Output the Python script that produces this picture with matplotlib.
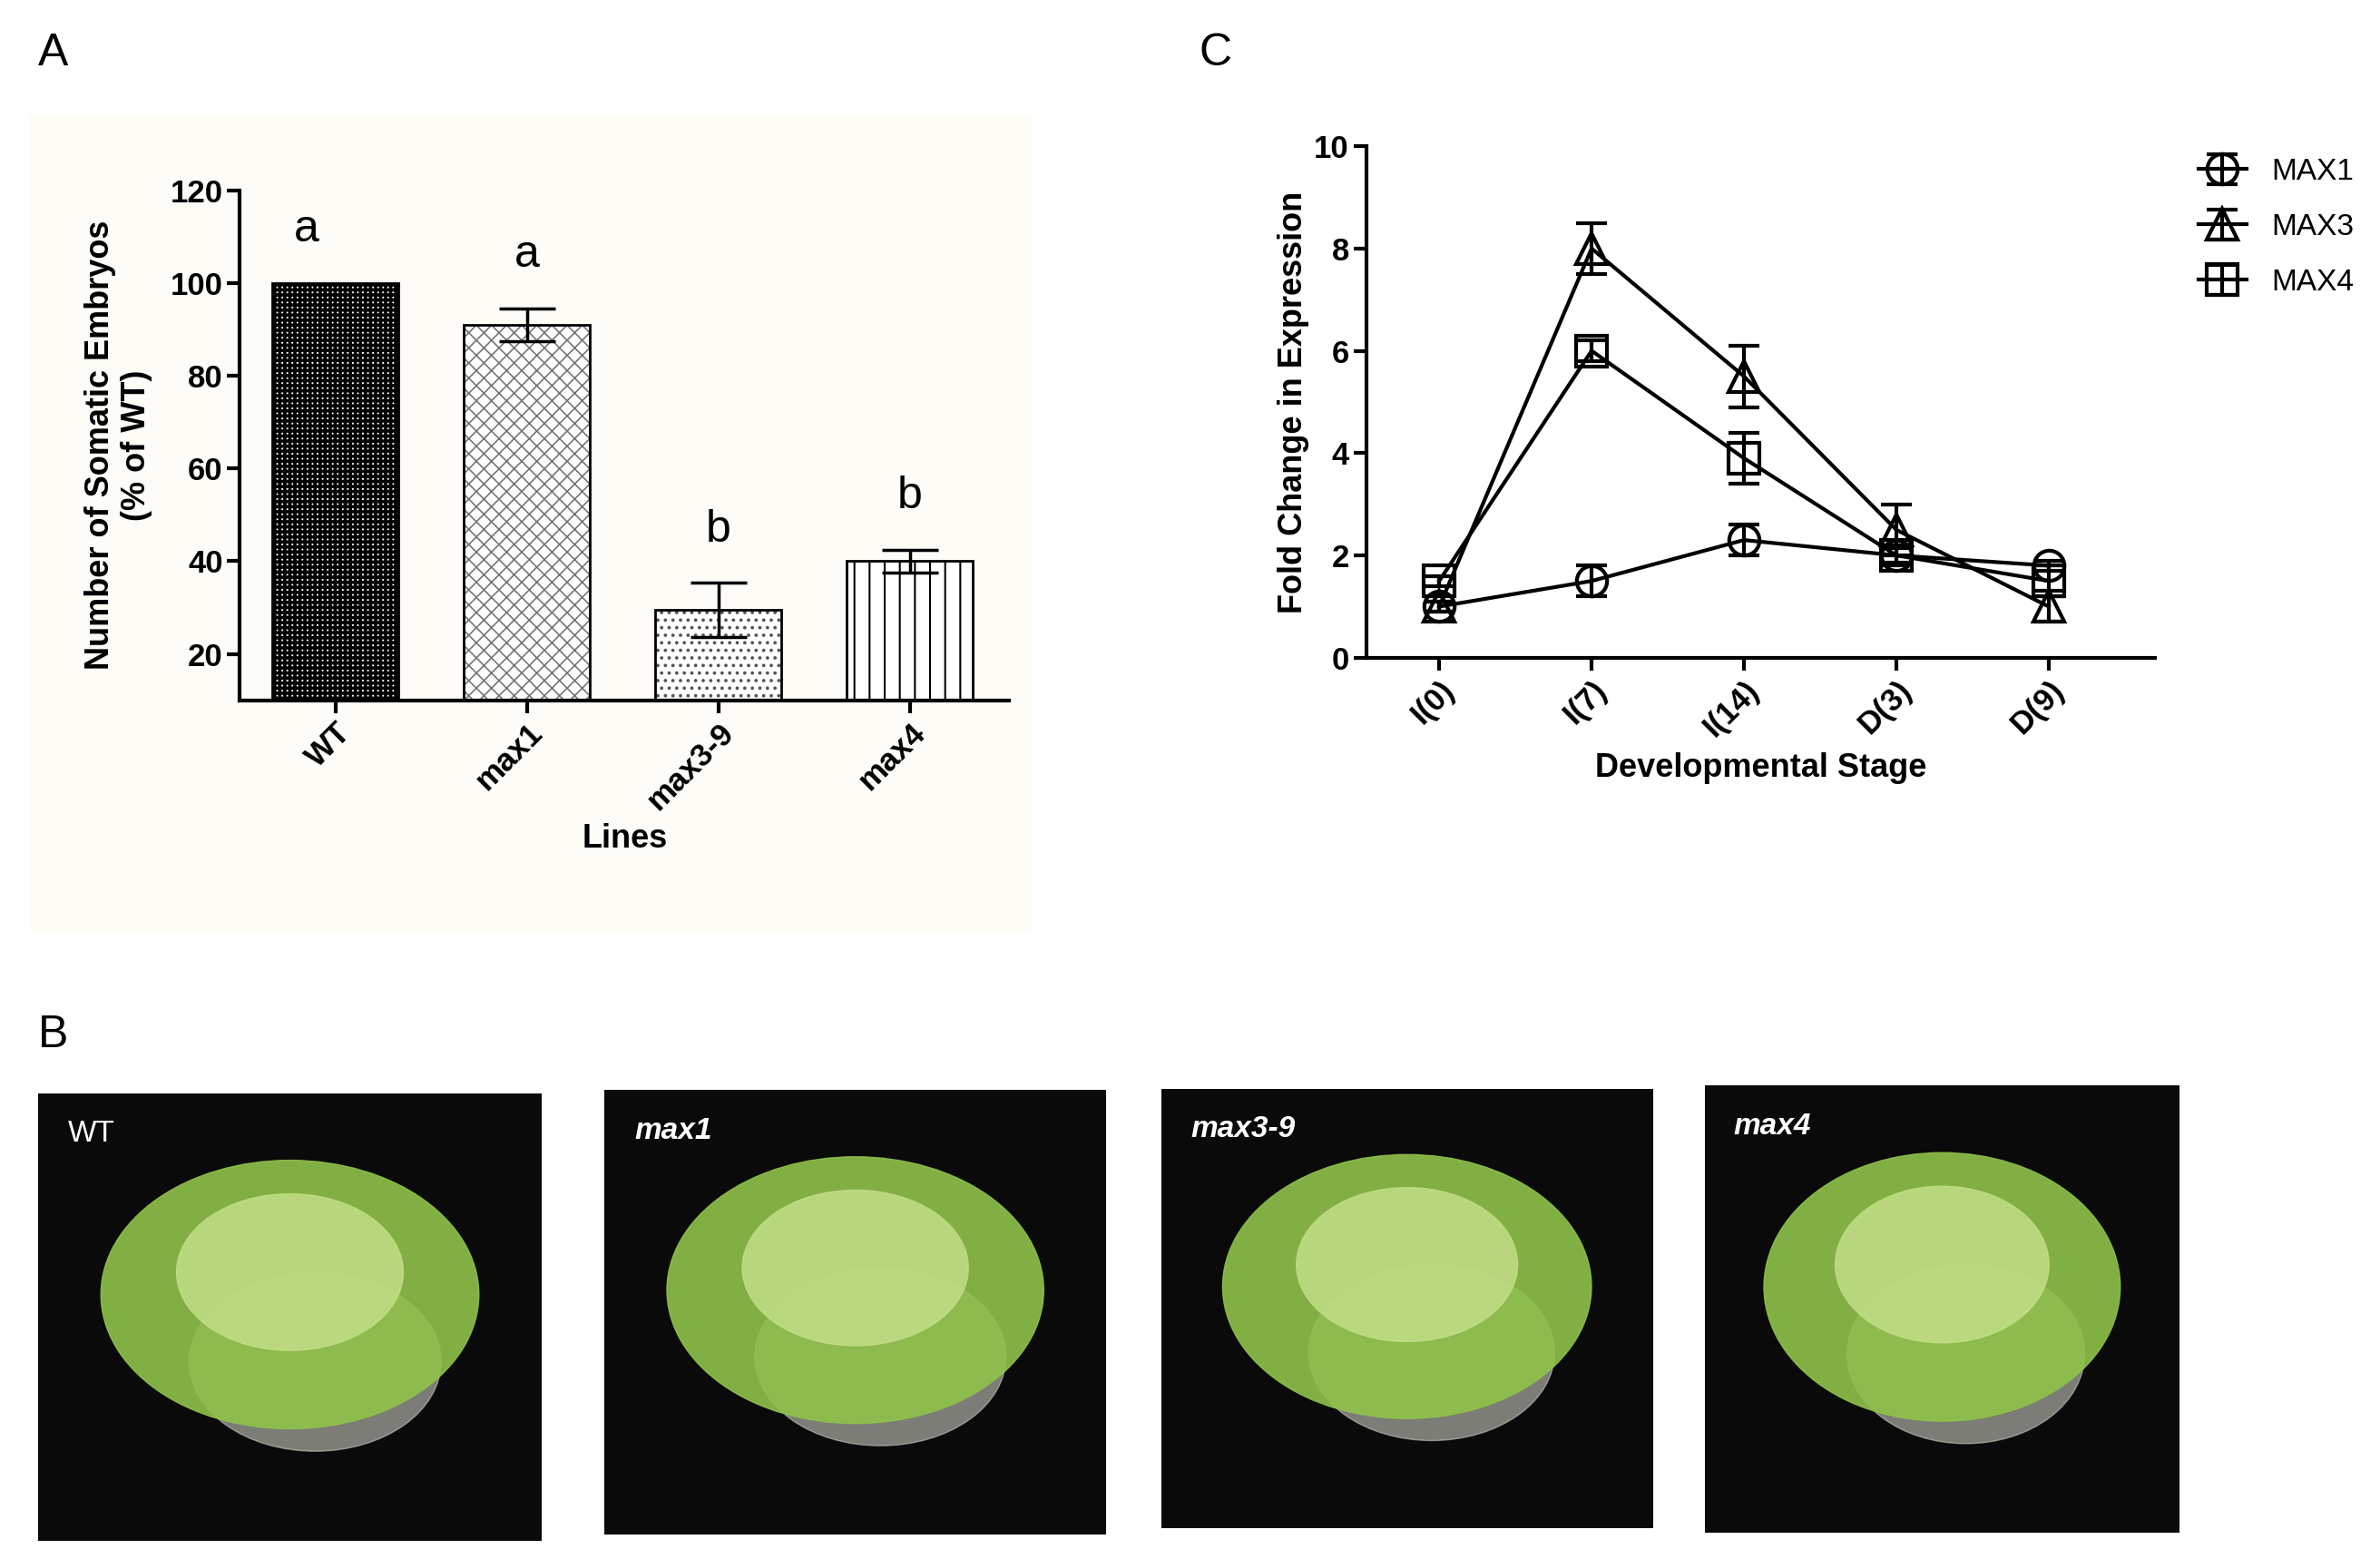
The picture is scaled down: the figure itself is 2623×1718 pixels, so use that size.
import matplotlib.pyplot as plt
import numpy as np
from matplotlib.patches import Ellipse

# Panel A data
lines = ['WT', 'max1', 'max3-9', 'max4']
embryos = [100, 91, 29.5, 40]
embryos_err = [0, 3.5, 5.8, 2.5]
letters = ['a', 'a', 'b', 'b']
hatches = ['+++', 'xx', '..', '|']

# Panel C data
stages = ['I(0)', 'I(7)', 'I(14)', 'D(3)', 'D(9)']
max1 = [1.0, 1.5, 2.3, 2.0, 1.8]
max1_err = [0.1, 0.3, 0.3, 0.15, 0.1]
max3 = [1.0, 8.0, 5.5, 2.5, 1.0]
max3_err = [0.1, 0.5, 0.6, 0.5, 0.3]
max4 = [1.5, 6.0, 3.9, 2.0, 1.5]
max4_err = [0.1, 0.2, 0.5, 0.2, 0.3]

photo_labels = ['WT', 'max1', 'max3-9', 'max4']

W, H = 1568, 1024
def rect(x0, y0, x1, y1):
    return [x0 / W, 1 - y1 / H, (x1 - x0) / W, (y1 - y0) / H]

plt.rcParams['font.family'] = ['Liberation Sans', 'DejaVu Sans']
plt.rcParams['hatch.linewidth'] = 1.5
fig = plt.figure(figsize=(26.23, 17.18), dpi=100)

# ---- Panel A ----
bg = fig.add_axes(rect(20, 75, 680, 612), zorder=-5)
bg.set_facecolor('#fdfcf7')
bg.set_xticks([])
bg.set_yticks([])
for s in bg.spines.values():
    s.set_visible(False)

ax = fig.add_axes(rect(158, 125, 665, 460))
ax.patch.set_alpha(0)
x = np.arange(len(lines))
bars = ax.bar(x, embryos, width=0.66, color='white', edgecolor='black', linewidth=2)
hw = [2.6, 1.2, 1.5, 1.5]
hc = ['black', '#777777', '#555555', 'black']
for b, h, w, c in zip(bars, hatches, hw, hc):
    b.set_hatch(h)
    b.set_hatch_linewidth(w)
    b._hatch_color = plt.matplotlib.colors.to_rgba(c)
ax.errorbar(x[1:], embryos[1:], yerr=embryos_err[1:], fmt='none', ecolor='black',
            elinewidth=2.5, capsize=22, capthick=2.5)
for xi, v, e, l in zip(x, embryos, embryos_err, letters):
    ax.text(xi - (0.15 if xi == 0 else 0), v + e + 7, l, ha='center', va='bottom', fontsize=36)
ax.set_ylim(10, 120)
ax.set_xlim(-0.5, 3.52)
ax.set_yticks([20, 40, 60, 80, 100, 120])
ax.set_xticks(x)
ax.set_xticklabels(lines, rotation=45, ha='right', rotation_mode='anchor', fontweight='bold')
ax.tick_params(labelsize=25, width=3, length=10)
for s in ['top', 'right']:
    ax.spines[s].set_visible(False)
for s in ['left', 'bottom']:
    ax.spines[s].set_linewidth(3)
ax.set_ylabel('Number of Somatic Embryos\n(% of WT)', fontsize=26, fontweight='bold', labelpad=14)
ax.set_xlabel('Lines', fontsize=26, fontweight='bold', labelpad=6)
for lbl in ax.get_yticklabels():
    lbl.set_fontweight('bold')

# ---- Panel C ----
ax2 = fig.add_axes(rect(900, 96, 1420, 432))
xs = np.arange(len(stages))
kw = dict(color='black', linewidth=3, markersize=24, markerfacecolor='none',
          markeredgewidth=3, capsize=12, capthick=3, elinewidth=3)
ax2.errorbar(xs, max1, yerr=max1_err, marker='o', label='MAX1', **kw)
ax2.errorbar(xs, max3, yerr=max3_err, marker='^', label='MAX3', **kw)
ax2.errorbar(xs, max4, yerr=max4_err, marker='s', label='MAX4', **kw)
ax2.set_ylim(0, 10)
ax2.set_xlim(-0.48, 4.7)
ax2.set_yticks([0, 2, 4, 6, 8, 10])
ax2.set_xticks(xs)
ax2.set_xticklabels(stages, rotation=45, ha='right', rotation_mode='anchor', fontweight='bold')
ax2.tick_params(labelsize=25, width=3, length=10)
for lbl in ax2.get_yticklabels():
    lbl.set_fontweight('bold')
for s in ['top', 'right']:
    ax2.spines[s].set_visible(False)
for s in ['left', 'bottom']:
    ax2.spines[s].set_linewidth(3)
ax2.set_ylabel('Fold Change in Expression', fontsize=26, fontweight='bold')
ax2.set_xlabel('Developmental Stage', fontsize=26, fontweight='bold', labelpad=8)
ax2.legend(loc='upper left', bbox_to_anchor=(1.02, 1.03), frameon=False, fontsize=24,
           handlelength=1.6, labelspacing=0.9)

# ---- Panel B (photo placeholders) ----
boxes = [(25, 718, 357, 1012), (398, 716, 729, 1008), (765, 715, 1089, 1004), (1123, 713, 1436, 1007)]
for (x0, y0, x1, y1), lab in zip(boxes, photo_labels):
    pa = fig.add_axes(rect(x0, y0, x1, y1))
    pa.set_facecolor('#0a0a0a')
    pa.set_xlim(0, 1)
    pa.set_ylim(0, 1)
    pa.add_patch(Ellipse((0.55, 0.4), 0.5, 0.4, color='#c9cbbf', alpha=0.6))
    pa.add_patch(Ellipse((0.5, 0.55), 0.75, 0.6, color='#8fc24a', alpha=0.9))
    pa.add_patch(Ellipse((0.5, 0.6), 0.45, 0.35, color='#c6e08a', alpha=0.8))
    pa.set_xticks([])
    pa.set_yticks([])
    for s in pa.spines.values():
        s.set_visible(False)
    pa.text(0.06, 0.94, lab, transform=pa.transAxes, color='white', fontsize=24,
            va='top', style='normal' if lab == 'WT' else 'italic', fontweight='bold' if lab != 'WT' else 'normal')

fig.text(25 / W, 1 - 35 / H, 'A', fontsize=36, va='center')
fig.text(790 / W, 1 - 35 / H, 'C', fontsize=36, va='center')
fig.text(25 / W, 1 - 680 / H, 'B', fontsize=36, va='center')

fig.savefig('out.png', dpi=100, facecolor='white')
